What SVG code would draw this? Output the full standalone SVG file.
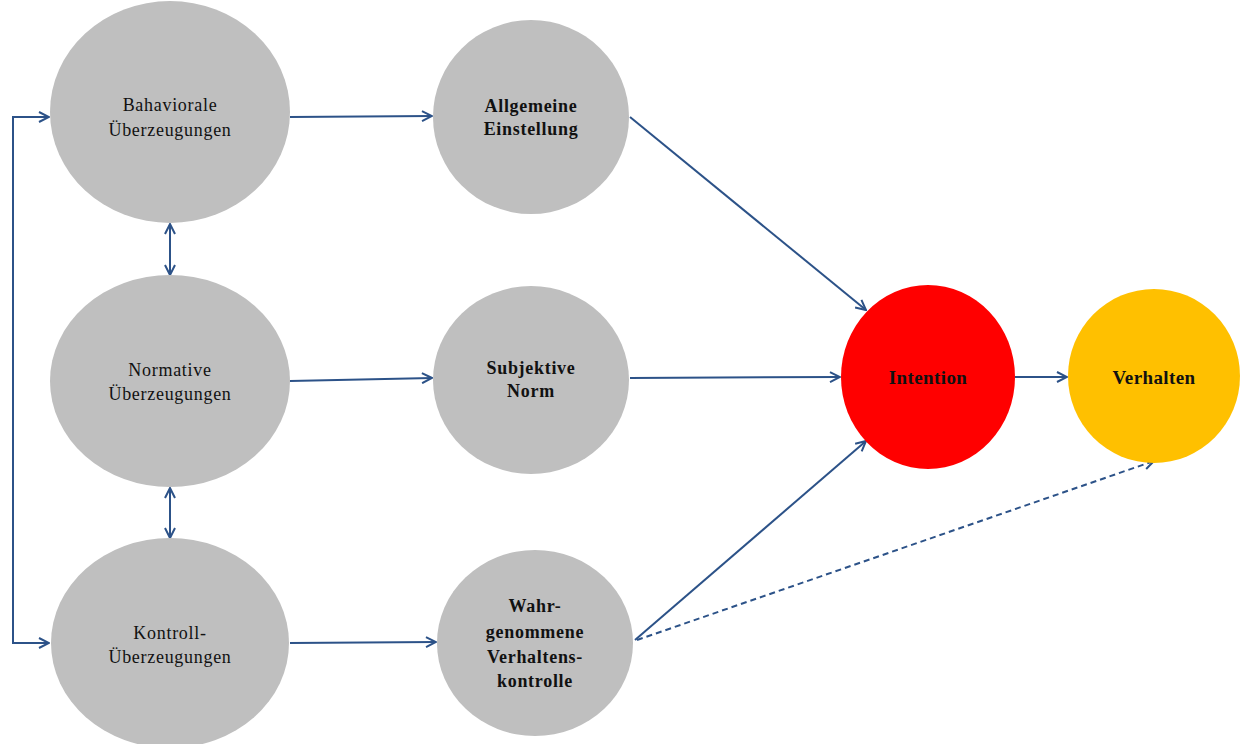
<svg xmlns="http://www.w3.org/2000/svg" width="1240" height="744" viewBox="0 0 1240 744">
  <style>
    .node { fill: #bfbfbf; }
    .lbl { font-family: "Liberation Serif", "Times New Roman", serif; font-size: 18px; letter-spacing: 0.7px; fill: #111; text-anchor: middle; }
    .b { font-weight: bold; }
    .big { font-size: 19px; letter-spacing: 0.4px; }
    .edge { stroke: #2c5288; stroke-width: 2; fill: none; }
    .dash { stroke-dasharray: 6 4; }
  </style>
  <defs>
    <marker id="arr" viewBox="0 0 12 12" refX="11" refY="6" markerWidth="12" markerHeight="12" markerUnits="userSpaceOnUse" orient="auto-start-reverse">
      <path d="M1,1 L11,6 L1,11" fill="none" stroke="#2c5288" stroke-width="2"/>
    </marker>
  </defs>

  <rect width="1240" height="744" fill="#ffffff"/>

  <g id="connectors">
    <polyline class="edge" points="49,117 13,117 13,643 49,643" marker-start="url(#arr)" marker-end="url(#arr)"/>
    <line class="edge" x1="170" y1="224" x2="170" y2="275" marker-start="url(#arr)" marker-end="url(#arr)"/>
    <line class="edge" x1="170" y1="488" x2="170" y2="538" marker-start="url(#arr)" marker-end="url(#arr)"/>
    <line class="edge" x1="290" y1="117" x2="432" y2="116" marker-end="url(#arr)"/>
    <line class="edge" x1="290" y1="381" x2="432" y2="378" marker-end="url(#arr)"/>
    <line class="edge" x1="290" y1="643" x2="436" y2="642" marker-end="url(#arr)"/>
    <line class="edge" x1="630" y1="117" x2="866" y2="310" marker-end="url(#arr)"/>
    <line class="edge" x1="630" y1="378" x2="840" y2="377" marker-end="url(#arr)"/>
    <line class="edge" x1="635" y1="640" x2="866" y2="441" marker-end="url(#arr)"/>
    <line class="edge" x1="1015" y1="377" x2="1067" y2="377" marker-end="url(#arr)"/>
    <line class="edge dash" x1="637" y1="640" x2="1154" y2="461" marker-end="url(#arr)"/>
  </g>

  <g id="bahaviorale">
    <ellipse class="node" cx="170" cy="112" rx="120" ry="111"/>
    <text class="lbl" x="170" y="111">Bahaviorale</text>
    <text class="lbl" x="170" y="136">Überzeugungen</text>
  </g>
  <g id="normative">
    <ellipse class="node" cx="170" cy="381" rx="120" ry="106"/>
    <text class="lbl" x="170" y="376">Normative</text>
    <text class="lbl" x="170" y="400">Überzeugungen</text>
  </g>
  <g id="kontroll">
    <ellipse class="node" cx="170" cy="643" rx="119" ry="105"/>
    <text class="lbl" x="170" y="639">Kontroll-</text>
    <text class="lbl" x="170" y="663">Überzeugungen</text>
  </g>
  <g id="einstellung">
    <ellipse class="node" cx="531" cy="117" rx="98" ry="97"/>
    <text class="lbl b" x="531" y="112">Allgemeine</text>
    <text class="lbl b" x="531" y="135">Einstellung</text>
  </g>
  <g id="norm">
    <ellipse class="node" cx="531" cy="380" rx="98" ry="94"/>
    <text class="lbl b" x="531" y="374">Subjektive</text>
    <text class="lbl b" x="531" y="397">Norm</text>
  </g>
  <g id="verhaltenskontrolle">
    <ellipse class="node" cx="535" cy="643" rx="98" ry="93"/>
    <text class="lbl b" x="535" y="612">Wahr-</text>
    <text class="lbl b" x="535" y="638">genommene</text>
    <text class="lbl b" x="535" y="663">Verhaltens-</text>
    <text class="lbl b" x="535" y="687">kontrolle</text>
  </g>
  <g id="intention">
    <ellipse cx="928" cy="377" rx="87" ry="92" fill="#ff0000"/>
    <text class="lbl b big" x="928" y="384">Intention</text>
  </g>
  <g id="verhalten">
    <ellipse cx="1154" cy="376" rx="86" ry="87" fill="#ffc000"/>
    <text class="lbl b big" x="1154" y="384">Verhalten</text>
  </g>
</svg>
